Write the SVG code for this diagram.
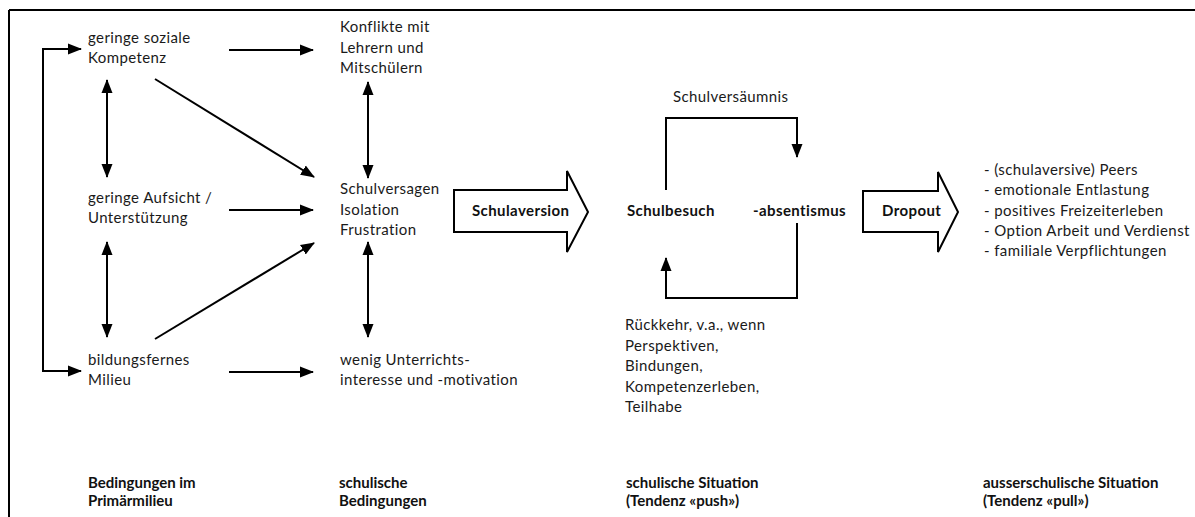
<svg xmlns="http://www.w3.org/2000/svg" width="1195" height="517" viewBox="0 0 1195 517">
<style>
.t{font-family:Lato,"Liberation Sans",sans-serif;font-size:15px;letter-spacing:0.4px;fill:#1a1a1a}
.b{font-family:Lato,"Liberation Sans",sans-serif;font-size:15px;letter-spacing:0.4px;font-weight:bold;fill:#111}
.l{font-family:Lato,"Liberation Sans",sans-serif;font-size:15px;font-weight:bold;fill:#111}
.c{stroke:#000;stroke-width:2;fill:none}
.big{stroke:#000;stroke-width:2;fill:#fff}
</style>
<defs>
<marker id="ah" markerUnits="userSpaceOnUse" markerWidth="14" markerHeight="12" refX="13" refY="5.5" orient="auto-start-reverse" viewBox="0 0 14 11">
<path d="M0,0 L14,5.5 L0,11 z" fill="#000"/>
</marker>
</defs>
<rect width="1195" height="517" fill="#fff"/>
<g id="frame">
<path class="c" d="M9,10 H1195 M9,10 V517"/>
</g>
<g id="connectors">
<path class="c" d="M81,49 H43 V371 H81" marker-start="url(#ah)" marker-end="url(#ah)"/>
<line class="c" x1="229" y1="50" x2="313" y2="50" marker-end="url(#ah)"/>
<line class="c" x1="229" y1="210" x2="313" y2="210" marker-end="url(#ah)"/>
<line class="c" x1="229" y1="372" x2="313" y2="372" marker-end="url(#ah)"/>
<line class="c" x1="107" y1="80" x2="107" y2="177" marker-start="url(#ah)" marker-end="url(#ah)"/>
<line class="c" x1="107" y1="242" x2="107" y2="337" marker-start="url(#ah)" marker-end="url(#ah)"/>
<line class="c" x1="368" y1="82" x2="368" y2="178" marker-start="url(#ah)" marker-end="url(#ah)"/>
<line class="c" x1="368" y1="242" x2="368" y2="337" marker-start="url(#ah)" marker-end="url(#ah)"/>
<line class="c" x1="155" y1="79" x2="314" y2="177" marker-end="url(#ah)"/>
<line class="c" x1="155" y1="339" x2="314" y2="243" marker-end="url(#ah)"/>
<path class="c" d="M666,190 V118 H797 V157" marker-end="url(#ah)"/>
<path class="c" d="M797,223 V298 H666 V258" marker-end="url(#ah)"/>
</g>
<g id="n-soziale"><text class="t" x="88" y="43">geringe soziale</text><text class="t" x="88" y="63">Kompetenz</text></g>
<g id="n-aufsicht"><text class="t" x="88" y="203">geringe Aufsicht /</text><text class="t" x="88" y="223">Unterstützung</text></g>
<g id="n-milieu"><text class="t" x="88" y="365">bildungsfernes</text><text class="t" x="88" y="385">Milieu</text></g>
<g id="n-konflikte"><text class="t" x="340" y="32">Konflikte mit</text><text class="t" x="340" y="53">Lehrern und</text><text class="t" x="340" y="73">Mitschülern</text></g>
<g id="n-versagen"><text class="t" x="340" y="194">Schulversagen</text><text class="t" x="340" y="215">Isolation</text><text class="t" x="340" y="235">Frustration</text></g>
<g id="n-wenig"><text class="t" x="340" y="365">wenig Unterrichts-</text><text class="t" x="340" y="385">interesse und -motivation</text></g>
<g id="n-schulaversion"><polygon class="big" points="454,190 567,190 567,171 588,212 567,252 567,232 454,232"/><text class="b" x="472" y="216">Schulaversion</text></g>
<g id="n-versaeumnis"><text class="t" x="673" y="102">Schulversäumnis</text></g>
<g id="n-schulbesuch"><text class="b" x="627" y="216">Schulbesuch</text></g>
<g id="n-absentismus"><text class="b" x="753" y="216">-absentismus</text></g>
<g id="n-rueckkehr"><text class="t" x="625" y="330">Rückkehr, v.a., wenn</text><text class="t" x="625" y="351">Perspektiven,</text><text class="t" x="625" y="371">Bindungen,</text><text class="t" x="625" y="392">Kompetenzerleben,</text><text class="t" x="625" y="412">Teilhabe</text></g>
<g id="n-dropout"><polygon class="big" points="863,191 938,191 938,172 958,212 938,252 938,232 863,232"/><text class="b" x="882" y="216">Dropout</text></g>
<g id="n-pull"><text class="t" x="984" y="175">- (schulaversive) Peers</text><text class="t" x="984" y="195">- emotionale Entlastung</text><text class="t" x="984" y="216">- positives Freizeiterleben</text><text class="t" x="984" y="236">- Option Arbeit und Verdienst</text><text class="t" x="984" y="256">- familiale Verpflichtungen</text></g>
<g id="labels">
<text class="l" x="88" y="488">Bedingungen im</text><text class="l" x="88" y="506">Primärmilieu</text>
<text class="l" x="339" y="488">schulische</text><text class="l" x="339" y="506">Bedingungen</text>
<text class="l" x="626" y="488">schulische Situation</text><text class="l" x="626" y="506">(Tendenz «push»)</text>
<text class="l" x="983" y="488">ausserschulische Situation</text><text class="l" x="983" y="506">(Tendenz «pull»)</text>
</g>
</svg>
